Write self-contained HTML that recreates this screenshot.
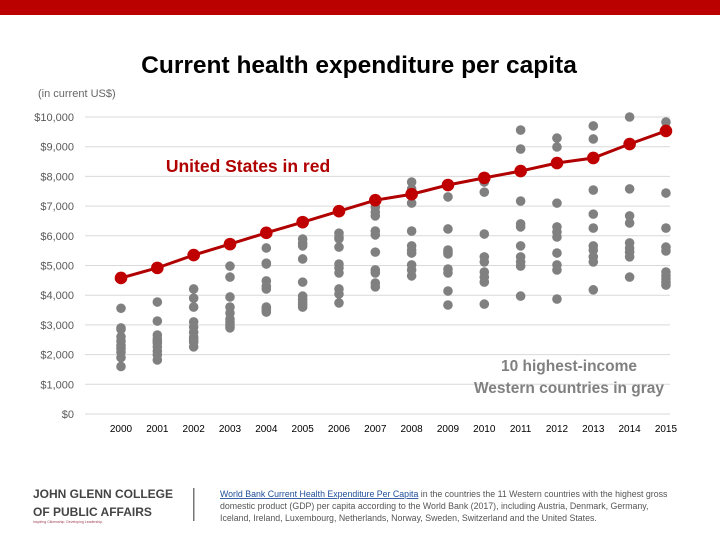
<!DOCTYPE html>
<html><head><meta charset="utf-8"><style>
body{margin:0;width:720px;height:540px;overflow:hidden;background:#fff;font-family:"Liberation Sans",sans-serif;}
svg{display:block}
</style></head><body>
<svg width="720" height="540" xmlns="http://www.w3.org/2000/svg">
<rect x="0" y="0" width="720" height="15" fill="#bb0000"/>
<text x="359" y="73" text-anchor="middle" font-size="24.5" font-weight="bold" fill="#000">Current health expenditure per capita</text>
<text x="38" y="97" font-size="11" fill="#666">(in current US$)</text>
<g id="grid"></g>
<g id="yticks"></g>
<g id="xticks"></g>
<g id="gray"></g>
<g id="us"></g>
<text x="248" y="172" text-anchor="middle" font-size="17.5" font-weight="bold" fill="#b00000">United States in red</text>
<text x="569" y="371" text-anchor="middle" font-size="15.5" font-weight="bold" fill="#808080">10 highest-income</text>
<text x="569" y="393" text-anchor="middle" font-size="15.5" font-weight="bold" fill="#808080">Western countries in gray</text>
<text x="33" y="498" font-size="12" font-weight="bold" fill="#444">JOHN GLENN COLLEGE</text>
<text x="33" y="516" font-size="12" font-weight="bold" fill="#444">OF PUBLIC AFFAIRS</text>
<text x="33" y="523" font-size="3.5" fill="#a04050">Inspiring Citizenship. Developing Leadership.</text>
<rect x="193" y="488" width="1.5" height="33" fill="#777"/>
<text font-size="8.8" fill="#555">
<tspan x="220" y="497"><tspan fill="#1f4e9a" text-decoration="underline">World Bank Current Health Expenditure Per Capita</tspan> in the countries the 11 Western countries with the highest gross</tspan>
<tspan x="220" y="509">domestic product (GDP) per capita according to the World Bank (2017), including Austria, Denmark, Germany,</tspan>
<tspan x="220" y="521">Iceland, Ireland, Luxembourg, Netherlands, Norway, Sweden, Switzerland and the United States.</tspan>
</text>
</svg>
<script>
const years=["2000","2001","2002","2003","2004","2005","2006","2007","2008","2009","2010","2011","2012","2013","2014","2015"];
const usValues=[4580,4920,5350,5720,6100,6460,6830,7200,7400,7710,7950,8180,8450,8620,9090,9530];
const grayValues=[
[3560,2900,2850,2600,2450,2300,2200,2080,1900,1600],
[3770,3130,2660,2530,2450,2390,2260,2120,1990,1820],
[4210,3900,3600,3100,2930,2750,2590,2500,2420,2260],
[4980,4610,3940,3600,3400,3200,3100,3030,2950,2900],
[5590,5080,5050,4480,4300,4210,3600,3550,3500,3430],
[5890,5750,5660,5220,4440,3970,3850,3770,3680,3600],
[6090,5960,5900,5620,5050,4920,4750,4210,4040,3740],
[6970,6800,6670,6160,6030,5450,4850,4750,4410,4280],
[7810,7580,7100,6160,5660,5520,5420,5020,4850,4650],
[7710,7310,6230,5520,5450,5390,4880,4750,4140,3670],
[7980,7810,7470,6060,5290,5120,4780,4610,4440,3700],
[9560,8920,7170,6400,6300,5660,5290,5120,4980,3970],
[9290,8990,7100,6300,6130,5960,5420,5020,4850,3870],
[9700,9260,7540,6730,6260,5660,5520,5290,5120,4180],
[10000,9090,7580,6670,6430,5760,5590,5450,5290,4610],
[9830,7440,6260,5620,5490,4780,4650,4550,4440,4340]
];
const yTicks=[0,1000,2000,3000,4000,5000,6000,7000,8000,9000,10000];
const yTickLabels=["$0","$1,000","$2,000","$3,000","$4,000","$5,000","$6,000","$7,000","$8,000","$9,000","$10,000"];
const NS="http://www.w3.org/2000/svg";
function yS(v){return 414-v*(297/10000);}
function xS(i){return 121+i*36.33;}
function mk(tag,attrs,parent){const e=document.createElementNS(NS,tag);for(const k in attrs)e.setAttribute(k,attrs[k]);parent.appendChild(e);return e;}
const grid=document.getElementById('grid'),yt=document.getElementById('yticks'),xt=document.getElementById('xticks'),gray=document.getElementById('gray'),us=document.getElementById('us');
yTicks.forEach((v,i)=>{
  const l=mk('line',{x1:85,x2:670,y1:yS(v),y2:yS(v),stroke:'#d9d9d9','stroke-width':1},grid);
  
  
  const t=mk('text',{x:74,y:yS(v)+4,'text-anchor':'end','font-size':11,fill:'#595959'},yt);
  t.textContent=yTickLabels[i];
  
  
});
years.forEach((yr,i)=>{
  const t=mk('text',{x:xS(i),y:432,'text-anchor':'middle','font-size':10,fill:'#000'},xt);
  t.textContent=yr;
  
  
  grayValues[i].forEach(v=>{
    const c=mk('circle',{cx:xS(i),cy:yS(v),r:4.8,fill:'#808080'},gray);
    
    
  });
});
const pts=usValues.map((v,i)=>xS(i)+','+yS(v)).join(' ');
const pl=mk('polyline',{points:pts,fill:'none',stroke:'#b00000','stroke-width':3},us);


usValues.forEach((v,i)=>{
  const c=mk('circle',{cx:xS(i),cy:yS(v),r:6.3,fill:'#c00000'},us);
  
  
});
</script>
</body></html>
